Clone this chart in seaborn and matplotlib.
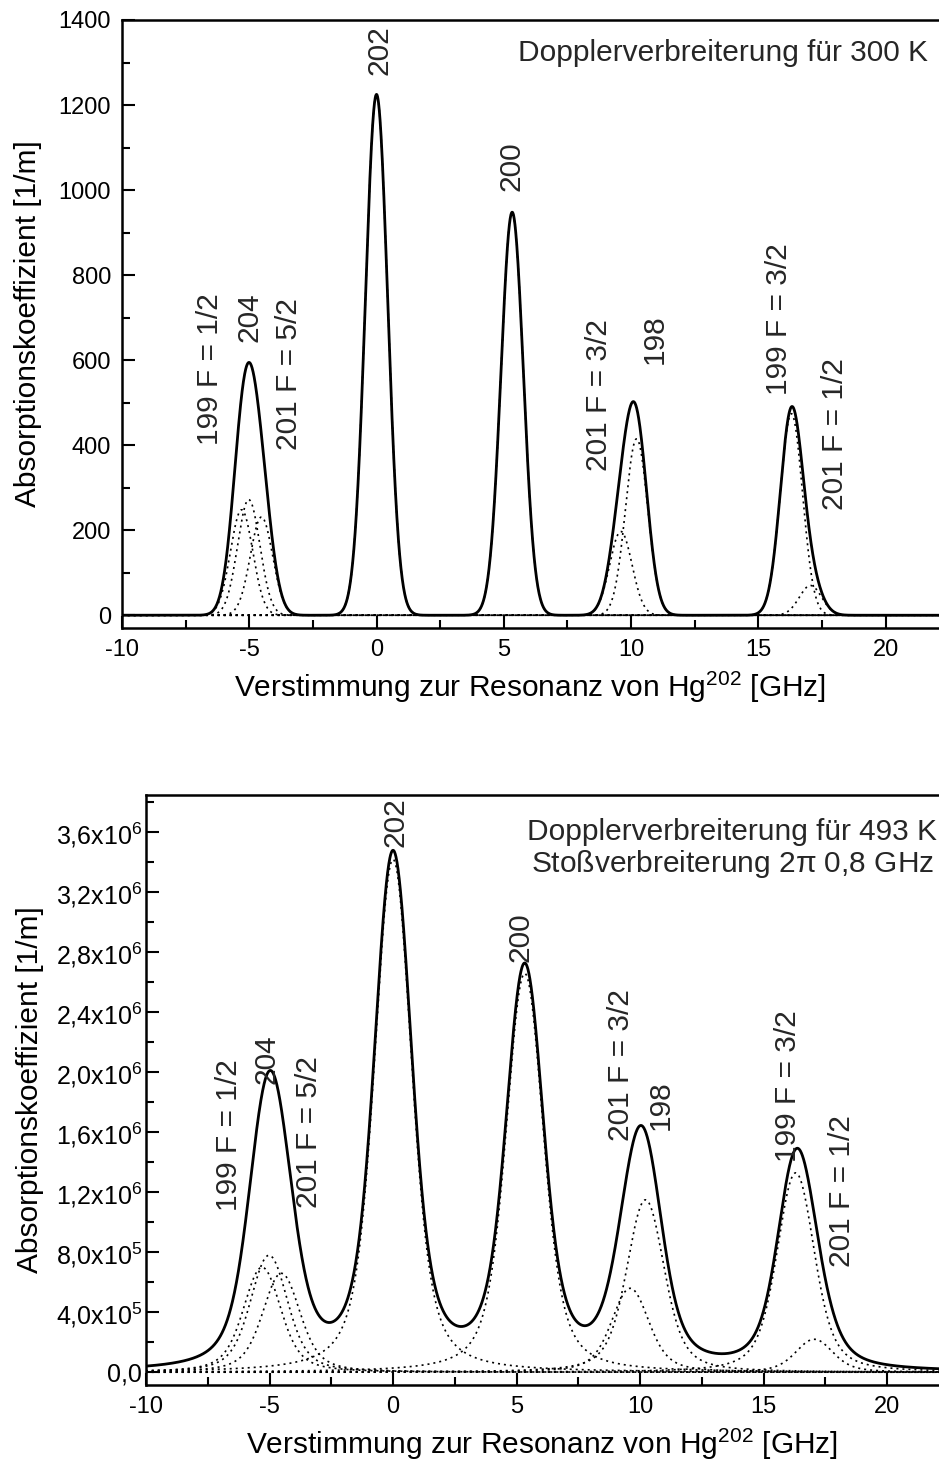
import numpy as np
import pandas as pd
import matplotlib
matplotlib.use("Agg")
import matplotlib.pyplot as plt
import seaborn as sns
from matplotlib.ticker import MultipleLocator, FuncFormatter

# ---------------- data ----------------
components = ["199 F=1/2", "204", "201 F=5/2", "202", "200",
              "201 F=3/2", "198", "199 F=3/2", "201 F=1/2"]
centers_ghz = [-5.30, -5.02, -4.52, 0.00, 5.33, 9.60, 10.22, 16.30, 17.05]
# peak heights of each component, top panel (Doppler 300 K) [1/m]
peaks_300K = [248, 272, 231, 1225, 948, 197, 415, 474, 70]
# peak heights of each component, bottom panel (Doppler 493 K + collisions) [1/m]
peaks_493K = [0.70e6, 0.78e6, 0.66e6, 3.42e6, 2.66e6, 0.56e6, 1.15e6, 1.33e6, 0.22e6]

# line-shape parameters (GHz)
sigma_300K = 0.438
sigma_493K = 0.56
gamma_coll = 0.40

detuning = np.linspace(-10.5, 22.5, 3301)

top_labels = ["202", "200", "204", "199 F = 1/2", "201 F = 5/2",
              "201 F = 3/2", "198", "199 F = 3/2", "201 F = 1/2"]
top_label_pos = [(0.12, 1329), (5.3, 1055), (-4.99, 701), (-6.56, 578), (-3.42, 567),
                 (8.76, 519), (10.92, 649), (15.83, 696), (18.0, 425)]
bot_label_pos = [(0.08, 3.667e6), (5.16, 2.90e6), (-5.12, 2.09e6), (-6.63, 1.58e6),
                 (-3.41, 1.60e6), (9.23, 2.05e6), (10.85, 1.78e6), (16.0, 1.91e6),
                 (18.17, 1.21e6)]

# ---------------- line shapes ----------------
def gauss_shape(d, s):
    return np.exp(-d**2 / (2 * s**2))

step = 0.01
dgrid = np.arange(-45, 45 + step / 2, step)
g = gauss_shape(dgrid, sigma_493K)
lo = 1.0 / (1.0 + (dgrid / gamma_coll) ** 2)
voigt = np.convolve(g, lo, mode="same")
voigt /= voigt.max()

def voigt_shape(d):
    return np.interp(d, dgrid, voigt)

top_comp = [a * gauss_shape(detuning - c, sigma_300K) for c, a in zip(centers_ghz, peaks_300K)]
bot_comp = [a * voigt_shape(detuning - c) for c, a in zip(centers_ghz, peaks_493K)]
top_total = np.sum(top_comp, axis=0)
bot_total = np.sum(bot_comp, axis=0)

# ---------------- style ----------------
sns.set_theme(style="ticks")
plt.rcParams["font.family"] = ["Liberation Sans", "DejaVu Sans"]
plt.rcParams["mathtext.fontset"] = "custom"
plt.rcParams["mathtext.rm"] = "Liberation Sans"
plt.rcParams["mathtext.it"] = "Liberation Sans"
plt.rcParams["axes.unicode_minus"] = False

W, H = 939, 1464
fig = plt.figure(figsize=(W / 100, H / 100), dpi=100)
ax1 = fig.add_axes([122 / W, 1 - 628 / H, 1 - 122 / W, (628 - 20) / H])
ax2 = fig.add_axes([146 / W, 1 - 1385 / H, 1 - 146 / W, (1385 - 795) / H])

FS = 17
FS_ANN = 21.5
FS_LAB = 21.5
dot = (0, (1.2, 2.4))

def draw(ax, comps, total):
    for comp in comps:
        df = pd.DataFrame({"x": detuning, "y": comp})
        sns.lineplot(data=df, x="x", y="y", ax=ax, color="black", lw=1.2,
                     linestyle=dot, estimator=None, sort=False)
    df = pd.DataFrame({"x": detuning, "y": total})
    sns.lineplot(data=df, x="x", y="y", ax=ax, color="black", lw=2.0,
                 estimator=None, sort=False)

draw(ax1, top_comp, top_total)
draw(ax2, bot_comp, bot_total)

for ax in (ax1, ax2):
    ax.set_xlim(-10, 22.1)
    ax.xaxis.set_major_locator(MultipleLocator(5))
    ax.xaxis.set_minor_locator(MultipleLocator(2.5))
    ax.tick_params(which="both", direction="in", labelsize=FS, width=1.5,
                   top=False, right=False, pad=8, color="black", labelcolor="black")
    ax.tick_params(which="major", length=9)
    ax.tick_params(which="minor", length=6)
    for sp in ("left", "bottom", "top"):
        ax.spines[sp].set_linewidth(1.8)
        ax.spines[sp].set_color("black")
    ax.spines["right"].set_visible(False)
    ax.set_xlabel("Verstimmung zur Resonanz von Hg$^{202}$ [GHz]", fontsize=FS_LAB,
                  labelpad=6, color="black")
    ax.set_ylabel("Absorptionskoeffizient [1/m]", fontsize=FS_LAB, color="black")

ax1.set_ylim(-30, 1400)
ax1.yaxis.set_major_locator(MultipleLocator(200))
ax1.yaxis.set_minor_locator(MultipleLocator(100))
ax1.yaxis.set_label_coords(-0.098, 0.5)

ax2.set_ylim(-0.085e6, 3.85e6)
ax2.yaxis.set_major_locator(MultipleLocator(0.4e6))
ax2.yaxis.set_minor_locator(MultipleLocator(0.2e6))
ax2.tick_params(axis="y", which="major", pad=3, labelsize=18)
ax2.yaxis.set_label_coords(-0.128, 0.5)

def sci_fmt(v, pos):
    if abs(v) < 1:
        return "0,0"
    e = int(np.floor(np.log10(abs(v))))
    m = v / 10 ** e
    return ("%.1f" % m).replace(".", ",") + "x10$^{%d}$" % e

ax2.yaxis.set_major_formatter(FuncFormatter(sci_fmt))

for (x, y), t in zip(top_label_pos, top_labels):
    ax1.text(x, y, t, rotation=90, ha="center", va="center", fontsize=FS_ANN)
for (x, y), t in zip(bot_label_pos, top_labels):
    ax2.text(x, y, t, rotation=90, ha="center", va="center", fontsize=FS_ANN)

ax1.text(21.65, 1322, "Dopplerverbreiterung für 300 K", ha="right", va="center",
         fontsize=FS_ANN)
ax2.text(13.74, 3.49e6, "Dopplerverbreiterung für 493 K\nStoßverbreiterung 2$\\pi$ 0,8 GHz",
         ha="center", va="center", fontsize=FS_ANN, linespacing=1.1)

fig.savefig("out.png", dpi=100)
